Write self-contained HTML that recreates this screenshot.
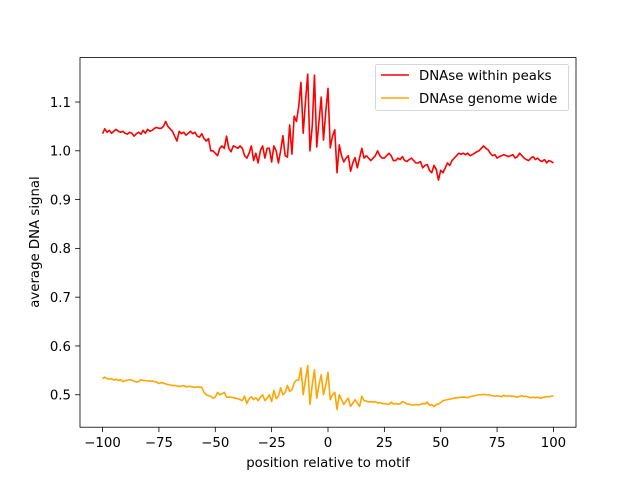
<!DOCTYPE html>
<html><head><meta charset="utf-8"><style>
html,body{margin:0;padding:0;background:#fff}
svg{display:block;font-family:"DejaVu Sans","Liberation Sans",sans-serif}
</style></head><body>
<svg id="chart" width="640" height="480"></svg>
<script>
const positions = []; for (let i = -100; i <= 100; i++) positions.push(i);
const peaksSeries = [
1.035,1.045,1.038,1.042,1.036,1.040,1.044,1.040,1.038,1.040,
1.036,1.034,1.038,1.036,1.030,1.035,1.038,1.034,1.042,1.036,
1.044,1.040,1.042,1.046,1.048,1.046,1.046,1.050,1.060,1.050,
1.045,1.040,1.030,1.020,1.040,1.035,1.038,1.032,1.036,1.040,
1.035,1.038,1.030,1.028,1.035,1.025,1.020,1.025,1.000,1.000,
0.995,0.990,1.005,1.010,1.005,1.030,1.005,0.998,1.010,1.008,
1.005,1.010,1.005,0.990,0.985,0.995,1.010,0.980,0.995,0.975,
1.000,1.010,0.985,1.005,1.005,0.977,1.010,1.000,0.975,1.000,
1.031,0.990,0.987,1.053,0.993,1.071,1.060,1.090,1.140,1.036,
1.100,1.157,1.000,1.050,1.155,1.008,1.060,1.110,1.022,1.080,
1.128,1.006,1.030,1.043,0.955,1.012,0.990,0.977,0.985,0.990,
0.958,0.975,0.986,0.965,0.985,1.005,0.985,0.990,0.985,0.980,
0.985,0.990,1.000,0.990,0.985,0.985,0.990,0.995,0.990,0.980,
0.980,0.985,0.982,0.988,0.980,0.978,0.982,0.985,0.980,0.975,
0.975,0.978,0.965,0.970,0.972,0.960,0.955,0.970,0.962,0.940,
0.960,0.955,0.965,0.975,0.970,0.980,0.985,0.990,0.995,0.993,
0.995,0.992,0.995,0.990,0.992,0.995,0.998,1.000,1.005,1.010,
1.005,1.002,0.995,0.990,0.992,0.985,0.988,0.990,0.992,0.990,
0.988,0.990,0.992,0.985,0.988,0.995,0.990,0.985,0.982,0.980,
0.985,0.988,0.982,0.985,0.980,0.978,0.982,0.975,0.980,0.978,
0.975];
const genomeSeries = [
0.533,0.536,0.533,0.532,0.533,0.530,0.532,0.529,0.531,0.527,
0.529,0.530,0.531,0.530,0.528,0.526,0.527,0.531,0.529,0.529,
0.528,0.528,0.528,0.527,0.526,0.523,0.525,0.524,0.522,0.521,
0.520,0.519,0.519,0.518,0.517,0.518,0.519,0.516,0.517,0.517,
0.516,0.515,0.516,0.516,0.515,0.505,0.500,0.498,0.497,0.493,
0.495,0.505,0.500,0.502,0.505,0.495,0.495,0.495,0.494,0.493,
0.492,0.490,0.488,0.497,0.482,0.492,0.496,0.490,0.494,0.488,
0.495,0.500,0.488,0.493,0.500,0.486,0.509,0.492,0.497,0.514,
0.500,0.505,0.519,0.507,0.510,0.524,0.530,0.530,0.555,0.500,
0.530,0.560,0.480,0.520,0.551,0.493,0.520,0.541,0.500,0.520,
0.546,0.490,0.500,0.505,0.470,0.500,0.490,0.480,0.487,0.493,
0.476,0.483,0.490,0.483,0.476,0.497,0.488,0.487,0.485,0.486,
0.485,0.486,0.483,0.484,0.482,0.482,0.481,0.480,0.485,0.481,
0.482,0.481,0.481,0.486,0.484,0.481,0.481,0.479,0.479,0.480,
0.479,0.480,0.482,0.481,0.485,0.478,0.480,0.476,0.480,0.481,
0.484,0.488,0.489,0.490,0.491,0.492,0.493,0.494,0.494,0.495,
0.495,0.495,0.494,0.496,0.497,0.498,0.499,0.500,0.500,0.501,
0.500,0.500,0.499,0.498,0.497,0.498,0.497,0.496,0.499,0.497,
0.498,0.497,0.497,0.496,0.495,0.497,0.498,0.496,0.497,0.495,
0.494,0.495,0.494,0.495,0.493,0.494,0.495,0.496,0.496,0.497,
0.498];
const xTicks = [-100,-75,-50,-25,0,25,50,75,100];
const yTicks = [0.5,0.6,0.7,0.8,0.9,1.0,1.1];

const svg = document.getElementById('chart');
const NS = 'http://www.w3.org/2000/svg';
const L=80,R=576,T=57.6,B=427.2;
const xMin=-110,xMax=110,yMin=0.4335,yMax=1.191;
const FS=13.3;
const xs = v => L + (v - xMin) / (xMax - xMin) * (R - L);
const ys = v => B - (v - yMin) / (yMax - yMin) * (B - T);
function mk(tag, attrs, parent){const e=document.createElementNS(NS,tag);for(const k in attrs)e.setAttribute(k,attrs[k]);(parent||svg).appendChild(e);return e;}

function drawLine(series, color, name){
  const d = series.map((v,i)=>(i?'L':'M')+xs(positions[i]).toFixed(2)+' '+ys(v).toFixed(2)).join(' ');
  const p = mk('path',{d:d,fill:'none',stroke:color,'stroke-width':1.6,'stroke-linejoin':'round'});
  
  
}
drawLine(peaksSeries,'#ff0000','line-within-peaks');
drawLine(genomeSeries,'#ffa500','line-genome-wide');

const frame = mk('rect',{x:L,y:T,width:R-L,height:B-T,fill:'none',stroke:'#000','stroke-width':0.8});



xTicks.forEach(t=>{
  const x=xs(t);
  mk('line',{x1:x,x2:x,y1:B,y2:B+4.9,stroke:'#000','stroke-width':0.8});
  const tx=mk('text',{x:x,y:B+20,'text-anchor':'middle','font-size':FS,fill:'#000'});
  tx.textContent=String(t).replace('-','\u2212');
  
  
});
yTicks.forEach(t=>{
  const y=ys(t);
  mk('line',{x1:L-4.9,x2:L,y1:y,y2:y,stroke:'#000','stroke-width':0.8});
  const tx=mk('text',{x:L-9,y:y+4.8,'text-anchor':'end','font-size':FS,fill:'#000'});
  tx.textContent=t.toFixed(1);
  
  
});
const xt=mk('text',{x:(L+R)/2,y:467,'text-anchor':'middle','font-size':FS,fill:'#000'});
xt.textContent='position relative to motif';


const yt=mk('text',{x:0,y:0,'text-anchor':'middle','font-size':FS,fill:'#000',transform:'translate(39,242) rotate(-90)'});
yt.textContent='average DNA signal';



const lg=mk('g',{});


mk('rect',{x:375.5,y:64.5,width:193,height:46,rx:2,fill:'#fff','fill-opacity':0.8,stroke:'#ccc','stroke-width':0.8},lg);
[['DNAse within peaks','#ff0000',75],['DNAse genome wide','#ffa500',98]].forEach(([lab,c,y])=>{
  const g=mk('g',{},lg);
  
  
  mk('line',{x1:381,x2:409,y1:y,y2:y,stroke:c,'stroke-width':1.6},g);
  const t=mk('text',{x:419,y:y+4.8,'font-size':FS,fill:'#000'},g);
  t.textContent=lab;
});
</script>
</body></html>
